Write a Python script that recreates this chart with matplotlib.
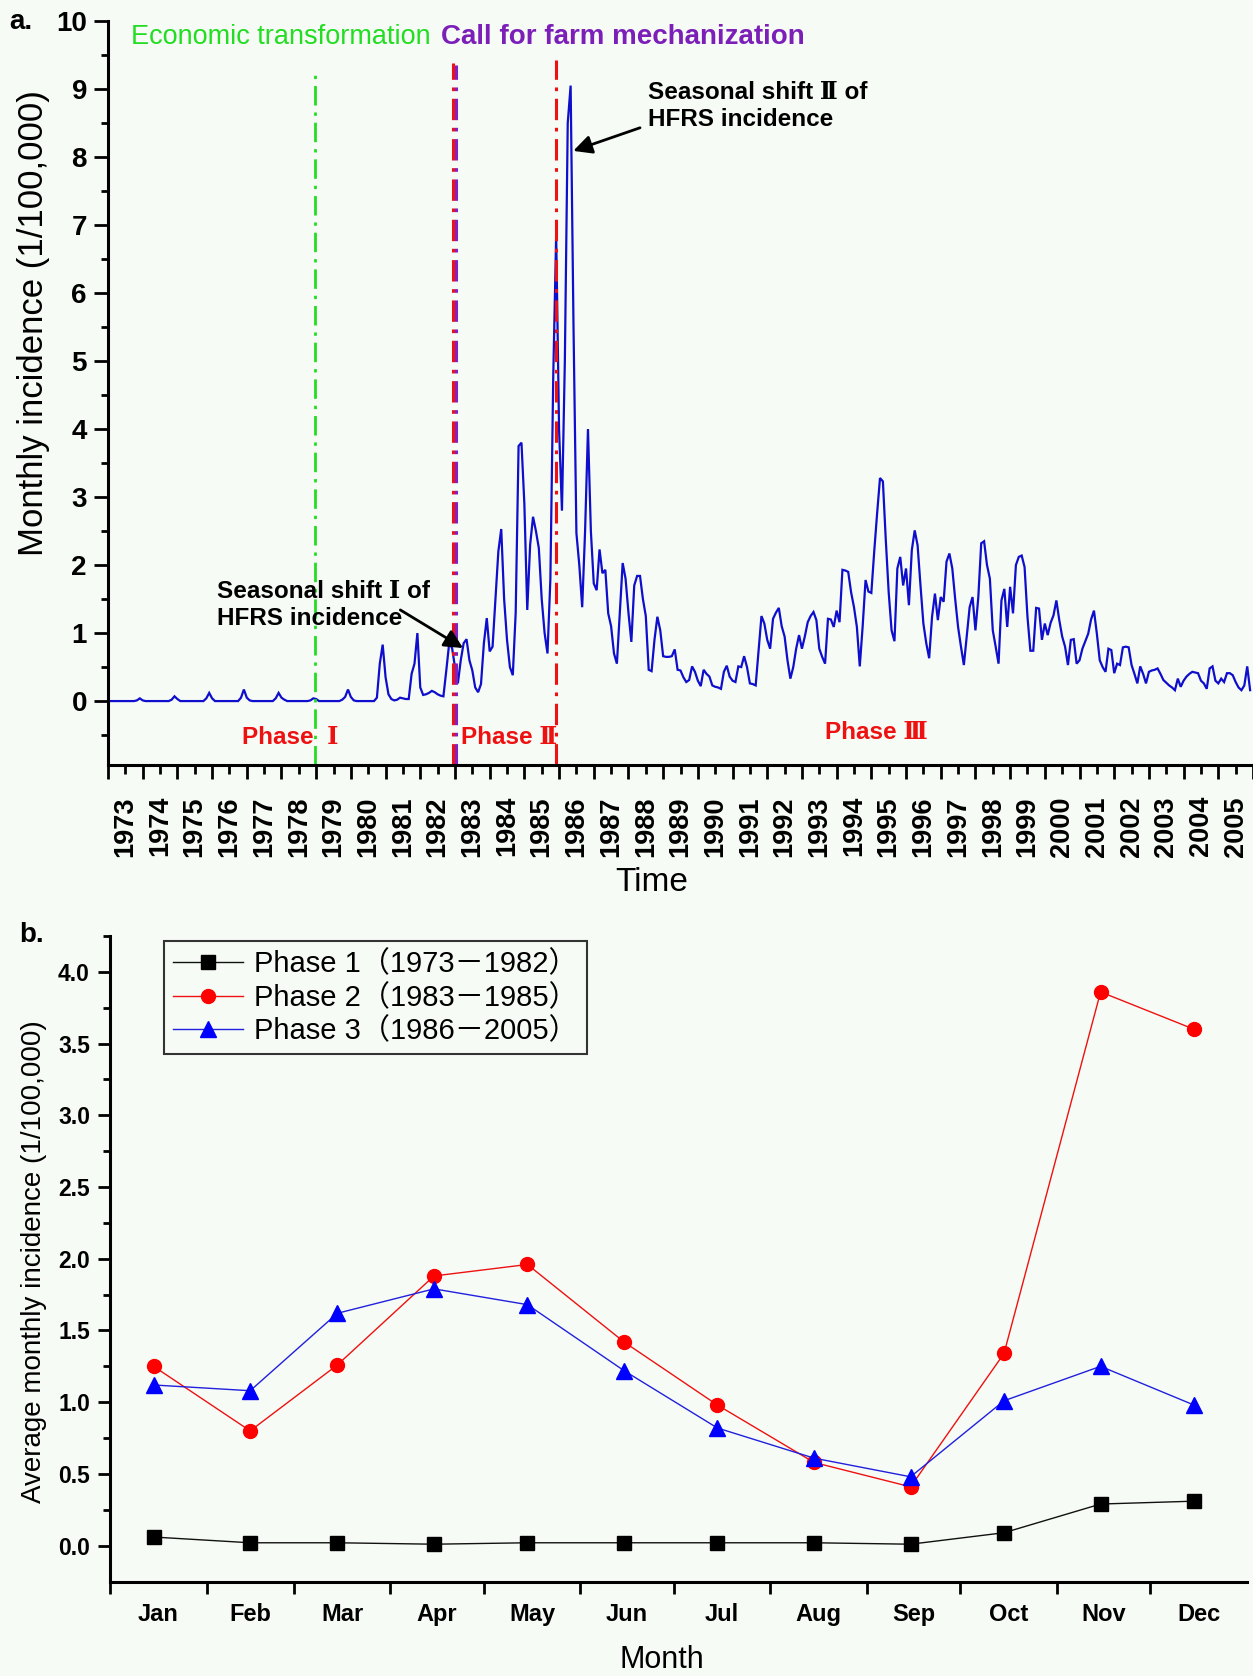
import numpy as np
import matplotlib
matplotlib.use('Agg')
import matplotlib.pyplot as plt
from matplotlib.ticker import MultipleLocator, FixedLocator
from matplotlib.font_manager import FontProperties

W, H = 1253, 1676
BG = '#f7fbf5'
plt.rcParams['font.family'] = ['Liberation Sans', 'Noto Sans CJK SC', 'DejaVu Sans']
ROMAN = ['Liberation Sans', 'DejaVu Serif', 'Noto Sans CJK SC']

# ---- panel a: monthly incidence (1/100,000), Jan 1973 .. Dec 2005 ----
years = list(range(1973, 2006))
incidence = [
    0, 0, 0, 0, 0, 0, 0, 0, 0, 0, 0.01, 0.04,                     # 1973
    0.01, 0, 0, 0, 0, 0, 0, 0, 0, 0, 0.02, 0.07,                  # 1974
    0.03, 0, 0, 0, 0, 0, 0, 0, 0, 0, 0.04, 0.12,                  # 1975
    0.04, 0, 0, 0, 0, 0, 0, 0, 0, 0, 0.05, 0.17,                  # 1976
    0.05, 0.01, 0, 0, 0, 0, 0, 0, 0, 0, 0.04, 0.12,               # 1977
    0.05, 0.02, 0, 0, 0, 0, 0, 0, 0, 0, 0.01, 0.04,               # 1978
    0.03, 0, 0, 0, 0, 0, 0, 0, 0, 0.02, 0.06, 0.17,               # 1979
    0.06, 0.01, 0, 0, 0, 0, 0, 0, 0, 0.05, 0.55, 0.83,            # 1980
    0.35, 0.1, 0.03, 0.01, 0.02, 0.05, 0.04, 0.03, 0.03, 0.4, 0.55, 1.0,   # 1981
    0.2, 0.09, 0.1, 0.12, 0.15, 0.13, 0.1, 0.08, 0.07, 0.45, 0.85, 0.78,   # 1982
    0.5, 0.26, 0.6, 0.85, 0.91, 0.6, 0.45, 0.2, 0.13, 0.25, 0.85, 1.22,    # 1983
    0.73, 0.8, 1.5, 2.2, 2.53, 1.5, 0.9, 0.5, 0.38, 1.3, 3.75, 3.8,        # 1984
    2.9, 1.34, 2.3, 2.71, 2.5, 2.25, 1.5, 1.0, 0.7, 1.8, 4.8, 6.85,        # 1985
    4.0, 2.8, 5.0, 8.5, 9.05, 5.5, 2.47, 2.0, 1.38, 2.5, 4.0, 2.5,         # 1986
    1.73, 1.63, 2.23, 1.88, 1.93, 1.29, 1.1, 0.7, 0.55, 1.3, 2.03, 1.8,    # 1987
    1.3, 0.87, 1.7, 1.84, 1.84, 1.5, 1.25, 0.46, 0.44, 0.9, 1.24, 1.04,    # 1988
    0.66, 0.65, 0.65, 0.66, 0.76, 0.46, 0.45, 0.35, 0.28, 0.31, 0.51, 0.43,  # 1989
    0.3, 0.22, 0.46, 0.4, 0.36, 0.23, 0.21, 0.2, 0.18, 0.43, 0.52, 0.36,   # 1990
    0.3, 0.28, 0.51, 0.5, 0.66, 0.5, 0.26, 0.25, 0.23, 0.75, 1.25, 1.14,   # 1991
    0.9, 0.77, 1.21, 1.3, 1.37, 1.1, 0.95, 0.6, 0.33, 0.5, 0.77, 0.97,     # 1992
    0.77, 0.95, 1.16, 1.25, 1.31, 1.19, 0.77, 0.65, 0.55, 1.21, 1.2, 1.09,  # 1993
    1.33, 1.16, 1.93, 1.92, 1.9, 1.6, 1.38, 1.09, 0.51, 1.1, 1.78, 1.61,   # 1994
    1.59, 2.2, 2.76, 3.28, 3.23, 2.37, 1.6, 1.04, 0.88, 1.95, 2.12, 1.7,   # 1995
    1.95, 1.41, 2.22, 2.51, 2.29, 1.7, 1.14, 0.85, 0.63, 1.24, 1.58, 1.19,  # 1996
    1.53, 1.46, 2.05, 2.17, 1.95, 1.5, 1.09, 0.8, 0.53, 0.95, 1.38, 1.53,  # 1997
    1.04, 1.53, 2.32, 2.35, 2.0, 1.8, 1.04, 0.8, 0.55, 1.48, 1.65, 1.09,   # 1998
    1.68, 1.29, 2.0, 2.12, 2.14, 1.97, 1.24, 0.74, 0.74, 1.37, 1.36, 0.9,  # 1999
    1.14, 0.97, 1.15, 1.26, 1.48, 1.19, 0.95, 0.8, 0.53, 0.9, 0.91, 0.55,  # 2000
    0.6, 0.77, 0.88, 0.99, 1.2, 1.33, 0.99, 0.6, 0.5, 0.43, 0.77, 0.75,    # 2001
    0.41, 0.55, 0.53, 0.79, 0.8, 0.79, 0.53, 0.4, 0.26, 0.51, 0.4, 0.26,   # 2002
    0.43, 0.45, 0.46, 0.48, 0.4, 0.31, 0.27, 0.23, 0.2, 0.16, 0.33, 0.21,  # 2003
    0.3, 0.36, 0.4, 0.43, 0.42, 0.41, 0.3, 0.26, 0.18, 0.48, 0.51, 0.3,    # 2004
    0.26, 0.33, 0.28, 0.41, 0.41, 0.38, 0.28, 0.2, 0.16, 0.23, 0.51, 0.16,  # 2005
]
# event lines, in months since Jan 1973, with top of line (incidence units)
econ_month, econ_top = 71.6, 9.3
call_month, call_top = 120.4, 9.35
phase2_month, phase2_top = 119.2, 9.38
phase3_month, phase3_top = 155.0, 9.43

# ---- panel b: average monthly incidence per phase ----
months = ['Jan', 'Feb', 'Mar', 'Apr', 'May', 'Jun',
          'Jul', 'Aug', 'Sep', 'Oct', 'Nov', 'Dec']
month_days = [31, 28, 31, 30, 31, 30, 31, 31, 30, 31, 30, 31]
phase1 = [0.06, 0.02, 0.02, 0.01, 0.02, 0.02, 0.02, 0.02, 0.01, 0.09, 0.29, 0.31]
phase2 = [1.25, 0.80, 1.26, 1.88, 1.96, 1.42, 0.98, 0.58, 0.41, 1.34, 3.86, 3.60]
phase3 = [1.12, 1.08, 1.62, 1.79, 1.68, 1.22, 0.82, 0.61, 0.48, 1.01, 1.25, 0.98]

PX = 0.72  # points per pixel at dpi 100


def fx(px):
    return px / W


def fy(py):
    return 1 - py / H


fig = plt.figure(figsize=(W / 100, H / 100), dpi=100, facecolor=BG)

# ================= panel a =================
ax1 = fig.add_axes([fx(108), fy(765), (1253 - 108) / W, (765 - 21) / H])
ax1.set_facecolor(BG)
ax1.plot(np.arange(len(incidence)), incidence, color='#0e0ecc', lw=1.6,
         solid_joinstyle='miter')
ax1.set_xlim(0, 12 * len(years))
ax1.set_ylim(-0.94, 10)
for s in ('top', 'right'):
    ax1.spines[s].set_visible(False)
for s in ('left', 'bottom'):
    ax1.spines[s].set_linewidth(2.2)

ax1.set_yticks(range(0, 11))
ax1.yaxis.set_minor_locator(MultipleLocator(0.5))
ax1.tick_params(axis='y', which='major', length=14 * PX, width=2,
                labelsize=20, pad=7 * PX)
ax1.tick_params(axis='y', which='minor', length=7 * PX, width=2)
for t in ax1.get_yticklabels():
    t.set_fontweight('bold')

ax1.set_xticks(np.arange(0, 12 * len(years) + 1, 12))
ax1.set_xticklabels([])
ax1.xaxis.set_minor_locator(FixedLocator(np.arange(6, 12 * len(years), 12)))
ax1.set_xticklabels([str(y) for y in years], minor=True, rotation=90,
                    fontsize=19.5, fontweight='bold')
ax1.tick_params(axis='x', which='major', length=14 * PX, width=2)
ax1.tick_params(axis='x', which='minor', length=9 * PX, width=2, pad=22 * PX)

dashdot = (0, (7, 2.5, 1.2, 2.5))
ybot = ax1.get_ylim()[0]
ax1.vlines(econ_month, ybot, econ_top, colors='#22dd22', lw=2,
           linestyles=[dashdot])
ax1.vlines(call_month, ybot, call_top, colors='#7b22cc', lw=2.2,
           linestyles=[dashdot])
ax1.vlines(phase2_month, ybot, phase2_top, colors='#ee1111', lw=2.2,
           linestyles=[dashdot])
ax1.vlines(phase3_month, ybot, phase3_top, colors='#ee1111', lw=2.2,
           linestyles=[dashdot])

ax1.text(8.0, 9.76, 'Economic transformation', color='#22dd22',
         fontsize=19.5, ha='left', va='center')
ax1.text(115.2, 9.76, 'Call for farm mechanization', color='#7b1fb8',
         fontsize=20, fontweight='bold', ha='left', va='center')

ax1.text(186.8, 8.75, 'Seasonal shift \u2161 of\nHFRS incidence',
         fontsize=17.5, fontweight='bold', ha='left', va='center',
         linespacing=1.25, family=ROMAN)
ax1.annotate('', xy=(160.9, 8.09), xytext=(184.0, 8.43),
             arrowprops=dict(arrowstyle='-|>', color='black', lw=2,
                             mutation_scale=28, shrinkA=0, shrinkB=0))
ax1.text(37.7, 1.41, 'Seasonal shift \u2160 of\nHFRS incidence',
         fontsize=17.5, fontweight='bold', ha='left', va='center',
         linespacing=1.25, family=ROMAN)
ax1.annotate('', xy=(122.8, 0.78), xytext=(101.1, 1.34),
             arrowprops=dict(arrowstyle='-|>', color='black', lw=2,
                             mutation_scale=28, shrinkA=0, shrinkB=0))

ax1.text(63.0, -0.54, 'Phase  \u2160', color='#ee1111', fontsize=17.5,
         fontweight='bold', ha='center', va='center', family=ROMAN)
ax1.text(138.7, -0.53, 'Phase \u2161', color='#ee1111', fontsize=17.5,
         fontweight='bold', ha='center', va='center', family=ROMAN)
ax1.text(265.6, -0.46, 'Phase \u2162', color='#ee1111', fontsize=17.5,
         fontweight='bold', ha='center', va='center', family=ROMAN)

fig.text(fx(9), fy(22), 'a.', fontsize=20, fontweight='bold',
         ha='left', va='center')
fig.text(fx(34), fy(323), 'Monthly incidence (1/100,000)', rotation=90,
         fontsize=25, ha='center', va='center')
fig.text(fx(652), fy(882), 'Time', fontsize=24, ha='center', va='center')

# ================= panel b =================
ax2 = fig.add_axes([fx(110), fy(1581.5), (1247 - 110) / W,
                    (1581.5 - 936) / H])
ax2.set_facecolor(BG)
starts = np.concatenate([[0], np.cumsum(month_days)[:-1]])
xpts = starts + 14
ax2.plot(xpts, phase1, color='#111111', lw=1, marker='s', ms=9.5,
         mfc='black', mec='black',
         label='Phase 1\uff081973\uff0d1982\uff09')
ax2.plot(xpts, phase2, color='#ee1111', lw=1, marker='o', ms=10,
         mfc='#ff0000', mec='#ff0000',
         label='Phase 2\uff081983\uff0d1985\uff09')
ax2.plot(xpts, phase3, color='#2020dd', lw=1, marker='^', ms=11,
         mfc='#0000ff', mec='#0000ff',
         label='Phase 3\uff081986\uff0d2005\uff09')
ax2.set_xlim(0, sum(month_days))
ax2.set_ylim(-0.25, 4.25)
for s in ('top', 'right'):
    ax2.spines[s].set_visible(False)
for s in ('left', 'bottom'):
    ax2.spines[s].set_linewidth(2.2)

ax2.set_yticks(np.arange(0, 4.01, 0.5))
ax2.set_yticklabels([f'{v:.1f}' for v in np.arange(0, 4.01, 0.5)])
ax2.yaxis.set_minor_locator(FixedLocator(np.arange(0.25, 4.3, 0.5)))
ax2.tick_params(axis='y', which='major', length=12 * PX, width=2,
                labelsize=16.5, pad=8 * PX)
ax2.tick_params(axis='y', which='minor', length=7 * PX, width=2)
for t in ax2.get_yticklabels():
    t.set_fontweight('bold')

ax2.set_xticks(starts)
ax2.set_xticklabels([])
ax2.xaxis.set_minor_locator(FixedLocator(starts + np.array(month_days) / 2))
ax2.set_xticklabels(months, minor=True, fontsize=17, fontweight='bold')
ax2.tick_params(axis='x', which='major', length=12 * PX, width=2)
ax2.tick_params(axis='x', which='minor', length=0, pad=21 * PX)

leg = ax2.legend(loc='upper left', bbox_to_anchor=(0.0475, 0.992),
                 borderaxespad=0, fancybox=False, framealpha=1,
                 edgecolor='#333333', facecolor=BG, handlelength=2.4,
                 handletextpad=0.4, labelspacing=0.2, borderpad=0.3,
                 prop=FontProperties(family=['Liberation Sans',
                                             'Noto Sans CJK SC'], size=21))
leg.get_frame().set_linewidth(1.5)

fig.text(fx(19), fy(935), 'b.', fontsize=20, fontweight='bold',
         ha='left', va='center')
fig.text(fx(34), fy(1262), 'Average monthly incidence (1/100,000)',
         rotation=90, fontsize=20, ha='center', va='center')
fig.text(fx(662), fy(1660), 'Month', fontsize=22, ha='center', va='center')

fig.savefig('out.png', dpi=100, facecolor=BG)
